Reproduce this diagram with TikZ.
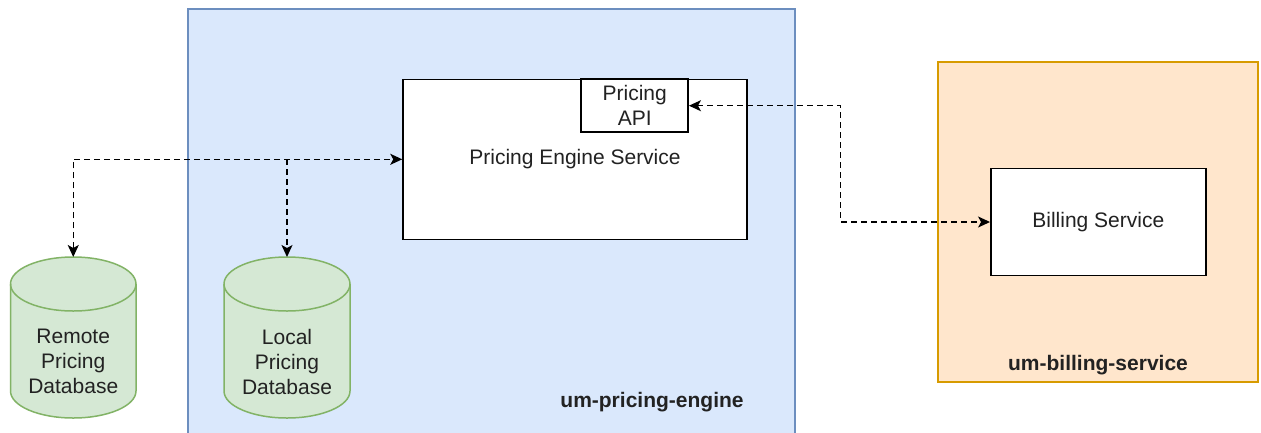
\documentclass[tikz,border=0pt]{standalone}
\usepackage{fontspec}
\setmainfont{Liberation Sans}
\usetikzlibrary{arrows.meta}

\definecolor{blueFill}{HTML}{DAE8FC}
\definecolor{blueLine}{HTML}{6C8EBF}
\definecolor{greenFill}{HTML}{D5E8D4}
\definecolor{greenLine}{HTML}{82B366}
\definecolor{orangeFill}{HTML}{FFE6CC}
\definecolor{orangeLine}{HTML}{D79B00}
\definecolor{ink}{HTML}{222222}

\tikzset{
  txt/.style={font=\fontsize{21}{25}\selectfont, text=ink, align=center, inner sep=0pt},
  grouplabel/.style={txt, font=\fontsize{21}{25}\selectfont\bfseries},
  servicebox/.style={draw=black, fill=white, line width=1.5pt, inner sep=0pt},
  area/.style={inner sep=0pt, outer sep=0pt},
  link/.style={draw=black, line width=1.5pt, dash pattern=on 6pt off 4pt,
    arrows={Stealth[length=12pt,width=11pt,inset=3pt]-Stealth[length=12pt,width=11pt,inset=3pt]}},
  linkone/.style={draw=black, line width=1.5pt, dash pattern=on 6pt off 4pt,
    arrows={-Stealth[length=12pt,width=11pt,inset=3pt]}},
  dbshape/.style={fill=greenFill, draw=greenLine, line width=1.5pt},
}

% cylinder outline: #1 left x, #2 right x, #3 top y, #4 bottom y, #5 ellipse half height
\newcommand{\dbcylinder}[5]{%
  \pgfmathsetmacro{\rxx}{(#2-#1)/2}%
  \path[dbshape] (#1,#3+#5) -- (#1,#4-#5)
    arc[start angle=180, end angle=0, x radius=\rxx, y radius=#5]
    -- (#2,#3+#5)
    arc[start angle=0, end angle=-180, x radius=\rxx, y radius=#5] -- cycle;
  \draw[greenLine, line width=1.5pt] (#1,#3+#5)
    arc[start angle=180, end angle=0, x radius=\rxx, y radius=#5];
}

\begin{document}
\begin{tikzpicture}[x=1pt, y=-1pt]
  \useasboundingbox (0,0) rectangle (1261,432);
  \fill[white] (0,0) rectangle (1261,432);
  \clip (0,0) rectangle (1261,432);

  % pricing engine group
  \path[fill=blueFill, draw=blueLine, line width=1.5pt] (188,9) rectangle (795,450);
  \node[grouplabel] (pegroup) at (652,402) {um-pricing-engine};

  % billing group
  \path[fill=orangeFill, draw=orangeLine, line width=1.5pt] (938,62) rectangle (1258,382);
  \node[grouplabel] (bsgroup) at (1098,365) {um-billing-service};

  % services
  \node[servicebox, minimum width=344pt, minimum height=160pt] (engine) at (575,159.3) {};
  \node[txt] (enginetxt) at (575,159.3) {Pricing Engine Service};
  \node[servicebox, minimum width=107pt, minimum height=53pt, txt] (api) at (634.7,105.7) {Pricing\\API};
  \node[servicebox, minimum width=215pt, minimum height=107pt, txt] (billing) at (1098.3,222) {Billing Service};

  % databases
  \dbcylinder{10.5}{136}{257}{418}{27}
  \node[area, minimum width=125.5pt, minimum height=161pt] (remote) at (73.25,337.5) {};
  \node[txt] (remotetxt) at (73.25,361.7) {Remote\\Pricing\\Database};

  \dbcylinder{224}{350}{257}{418}{27}
  \node[area, minimum width=126pt, minimum height=161pt] (local) at (287,337.5) {};
  \node[txt] (localtxt) at (287,361.7) {Local\\Pricing\\Database};

  % connectors
  \coordinate (bend) at (840.7,105.7);
  \draw[link] (remote.north) |- (engine.west);
  \draw[linkone] (local.north |- engine.west) -- (local.north);
  \draw[link] (api.east) -- (bend) |- (billing.west);
\end{tikzpicture}
\end{document}
